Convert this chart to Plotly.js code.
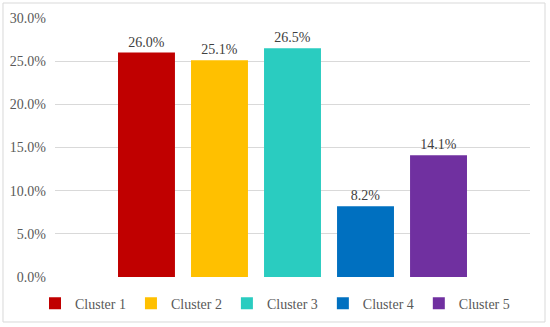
<!DOCTYPE html>
<html>
<head>
<meta charset="utf-8">
<script src="https://cdn.plot.ly/plotly-3.0.1.min.js"></script>
<style>html,body{margin:0;padding:0;background:#fff;}#chart{width:550px;height:327px;}</style>
</head>
<body>
<div id="chart"></div>
<script>
const clusters = ['Cluster 1', 'Cluster 2', 'Cluster 3', 'Cluster 4', 'Cluster 5'];
const shares = [26.0, 25.1, 26.5, 8.2, 14.1];
const colors = ['#C00000', '#FFC000', '#2ACCC0', '#0070C0', '#7030A0'];
const yTicks = [0, 5, 10, 15, 20, 25, 30];

const font = '"Liberation Serif", "Times New Roman", serif';
const traces = clusters.map((c, i) => ({
  type: 'bar',
  name: c,
  x: [c],
  y: [shares[i]],
  marker: {color: colors[i]},
  text: [shares[i].toFixed(1) + '%'],
  textposition: 'outside',
  cliponaxis: false,
  textfont: {family: font, size: 14, color: '#404040'},
  hoverinfo: 'none'
}));

const layout = {
  width: 550, height: 327,
  margin: {l: 55, r: 20, t: 18, b: 50, autoexpand: false},
  paper_bgcolor: '#fff', plot_bgcolor: '#fff',
  barmode: 'overlay',
  bargap: 0.22,
  font: {family: font, size: 14, color: '#595959'},
  xaxis: {
    type: 'category',
    categoryorder: 'array', categoryarray: clusters,
    range: [-1.253, 5.253],
    showticklabels: false, showgrid: false, zeroline: false, showline: false, ticks: ''
  },
  yaxis: {
    range: [0, 30],
    tickvals: yTicks,
    ticktext: yTicks.map(v => v.toFixed(1) + '%'),
    showgrid: true, gridcolor: '#D9D9D9', gridwidth: 1,
    zeroline: false, showline: false, ticks: '',
    ticklabelstandoff: 8,
    tickfont: {family: font, size: 14, color: '#595959'}
  },
  showlegend: true,
  legend: {
    orientation: 'h', x: 0.5, xref: 'container', xanchor: 'center',
    y: 0.12, yref: 'container', yanchor: 'top',
    font: {family: font, size: 14, color: '#595959'},
    itemwidth: 30, tracegroupgap: 0, itemclick: false
  },
  shapes: [{
    type: 'rect', xref: 'paper', yref: 'paper',
    x0: -0.1095, x1: 1.0316, y0: -0.1737, y1: 1.0579,
    line: {color: '#D9D9D9', width: 1}, fillcolor: 'rgba(0,0,0,0)', layer: 'below'
  }]
};

Plotly.newPlot('chart', traces, layout, {displayModeBar: false, staticPlot: true});
</script>
</body>
</html>
